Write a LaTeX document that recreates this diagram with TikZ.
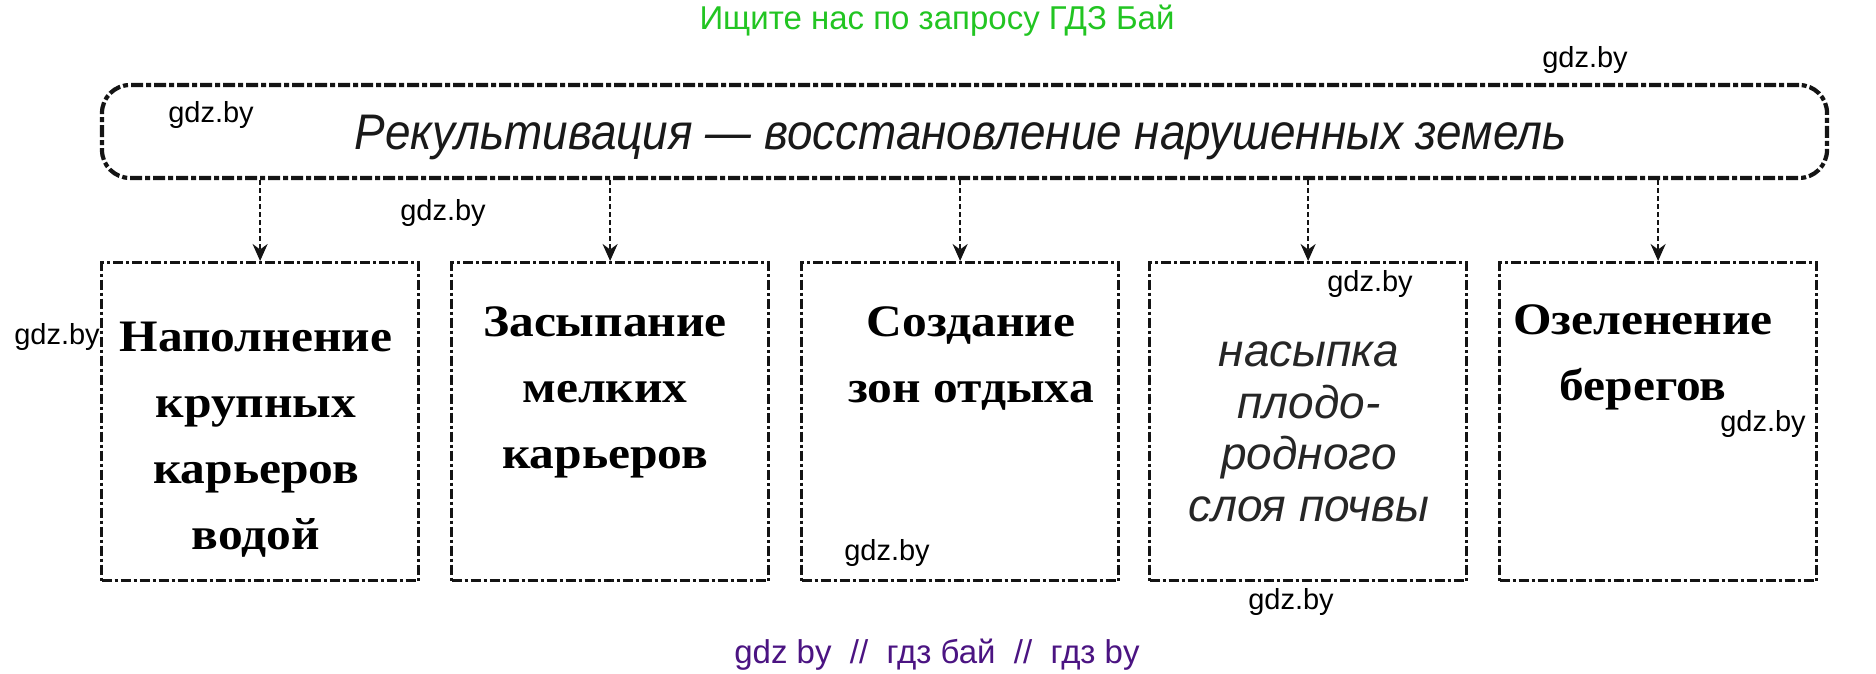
\documentclass[tikz,border=0pt]{standalone}
\usepackage{fontspec}
\usepackage{graphicx}
\setmainfont{Liberation Serif}[FakeStretch=1.1]
\newfontfamily\wmfont{Liberation Sans}
\newfontfamily\hwfont{Liberation Sans}
\usetikzlibrary{arrows.meta}
\definecolor{gdzgreen}{RGB}{34,197,34}
\definecolor{gdzpurple}{RGB}{75,20,130}
\definecolor{ink}{RGB}{20,20,20}
\tikzset{
  wm/.style={font=\wmfont\fontsize{29}{31}\selectfont, text=black, inner sep=0pt},
  boxframe/.style={draw=ink, line width=3.2pt, dash pattern=on 10pt off 3pt on 3pt off 3pt,
    minimum width=317pt, minimum height=318pt, inner sep=0pt, anchor=north west},
  boxtext/.style={font=\bfseries\fontsize{45}{66}\selectfont, align=center, inner sep=0pt, anchor=north},
  hand/.style={font=\hwfont\itshape\fontsize{46}{51.5}\selectfont, text=black!85, align=center, inner sep=0pt, anchor=north},
  conn/.style={draw=ink, line width=2.2pt, dash pattern=on 5pt off 3pt, -{Stealth[length=17pt,width=15pt]}},
  banner/.style={draw=ink, line width=4.2pt, dash pattern=on 12pt off 3pt on 5pt off 3pt,
    rounded corners=28pt, minimum width=1725pt, minimum height=93pt, inner sep=0pt},
  bannertext/.style={font=\hwfont\itshape\fontsize{50}{54}\selectfont, text=black!90, inner sep=0pt, anchor=base},
}
\begin{document}
\begin{tikzpicture}[x=1pt,y=-1pt]
\useasboundingbox[fill=white] (0,0) rectangle (1876,673);

% header and footer
\node[font=\wmfont\fontsize{33}{36}\selectfont, text=gdzgreen, anchor=base, inner sep=0pt] (head) at (937,29) {Ищите нас по запросу ГДЗ Бай};
\node[font=\wmfont\fontsize{33}{36}\selectfont, text=gdzpurple, anchor=base, inner sep=0pt] (foot) at (937,663) {gdz by\ \ //\ \ гдз бай\ \ //\ \ гдз by};

% banner
\node[banner] (ban) at (964.5,131.5) {};
\node[bannertext] (bt) at (961,149) {\resizebox{1212pt}{\height}{Рекультивация — восстановление нарушенных земель}};

% boxes
\node[boxframe] (b1) at (100,261) {};
\node[boxframe] (b2) at (450,261) {};
\node[boxframe] (b3) at (800,261) {};
\node[boxframe] (b4) at (1148,261) {};
\node[boxframe] (b5) at (1498,261) {};

% box texts
\node[boxtext] (t1) at (256,322) {Наполнение\\крупных\\карьеров\\водой};
\node[boxtext] (t2) at (605,306) {Засыпание\\мелких\\карьеров};
\node[boxtext] (t3) at (971,306) {Создание\\зон отдыха};
\node[hand] (t4) at (1309,342) {насыпка\\плодо-\\родного\\слоя почвы};
\node[boxtext] (t5) at (1643,304) {Озеленение\\берегов};

% connectors
\foreach \b in {b1,b2,b3,b4,b5}
  \draw[conn] (\b.north |- ban.south) -- (\b.north);

% watermarks
\node[wm] (w1) at (1585,60) {gdz.by};
\node[wm] (w2) at (211,115) {gdz.by};
\node[wm] (w3) at (443,213) {gdz.by};
\node[wm] (w4) at (57,337) {gdz.by};
\node[wm] (w5) at (1370,284) {gdz.by};
\node[wm] (w6) at (1763,424) {gdz.by};
\node[wm] (w7) at (887,553) {gdz.by};
\node[wm] (w8) at (1291,602) {gdz.by};
\end{tikzpicture}
\end{document}
